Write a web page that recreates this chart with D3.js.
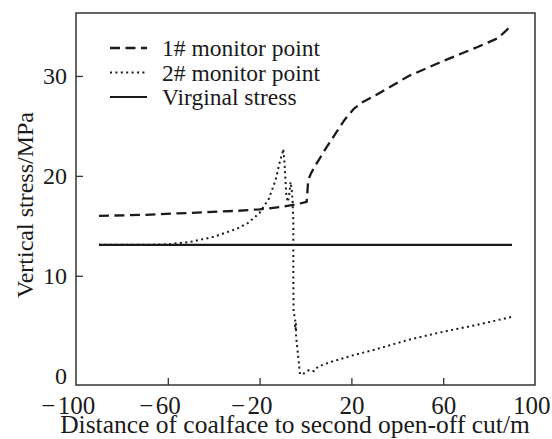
<!DOCTYPE html>
<html>
<head>
<meta charset="utf-8">
<script src="https://cdn.jsdelivr.net/npm/d3@7"></script>
<style>
  body { margin: 0; background: #fff; }
  svg { display: block; font-family: "Liberation Serif", "Times New Roman", serif; }
</style>
</head>
<body>
<svg width="552" height="439"></svg>
<script>
// 1# monitor point (dashed)
var x1 = [-90, -70, -50, -30, -20, -10, -4, 0.5, 1.2, 2.5, 5, 9, 13, 17, 21, 25, 30, 45, 60, 75, 84, 90]
var y1 = [16.0, 16.1, 16.3, 16.5, 16.65, 16.9, 17.15, 17.4, 19.6, 20.3, 21.3, 22.8, 24.2, 25.6, 26.7, 27.4, 28.0, 30.0, 31.5, 32.9, 33.8, 35.1]

// 2# monitor point (dotted)
var x2 = [-90, -70, -60, -50, -40, -30, -25, -20, -16, -13, -11, -10, -9.7, -9.2, -8.8, -8.3, -7.6, -7.0, -6.5, -6.0, -5.6, -5.3, -5.3, -5.2, -4.8, -4.4, -4.6, -4.3, -4.2, -4.1, -3.9, -2.4, -1.2, 0.5, 2, 3.7, 5.4, 10, 20, 30, 45, 60, 75, 90]
var y2 = [13.1, 13.1, 13.15, 13.4, 13.9, 14.7, 15.3, 16.3, 17.7, 19.6, 21.6, 22.3, 22.7, 21.5, 19.9, 17.9, 17.4, 18.3, 19.4, 18.6, 17.4, 15.5, 10, 6.3, 6.0, 5.4, 4.9, 4.6, 5.2, 4.0, 3.5, 0.15, 0.15, 0.45, 0.6, 0.45, 0.9, 1.3, 2.0, 2.6, 3.6, 4.4, 5.1, 5.9]

// virginal stress (solid)
var x3 = [-90, 90]
var y3 = [13.1, 13.1]

var legendLabels = ["1# monitor point", "2# monitor point", "Virginal stress"]
var xTicks = [-100, -60, -20, 20, 60, 100]
var yTicks = [0, 10, 20, 30]

var svg = d3.select('svg')
var margin = {left: 76, right: 17, top: 13, bottom: 54}
var width = 552, height = 439
var ink = "#1a1a1a"

var x = d3.scaleLinear()
  .domain([-100, 100])
  .range([margin.left, width - margin.right])
var y = d3.scaleLinear()
  .domain([-0.93, 36.3])
  .range([height - margin.bottom, margin.top])

var line = d3.line()
  .x(d => x(d[0]))
  .y(d => y(d[1]))

var series = [
  {name: legendLabels[0], pts: x1.map((v, i) => [v, y1[i]]), dash: "10,5.5", w: 2.3},
  {name: legendLabels[1], pts: x2.map((v, i) => [v, y2[i]]), dash: "2,3.4", w: 2},
  {name: legendLabels[2], pts: x3.map((v, i) => [v, y3[i]]), dash: null, w: 2.2}
]

// frame
svg.append("rect")
  .attr("x", x(-100)).attr("y", y(36.3))
  .attr("width", x(100) - x(-100)).attr("height", y(-0.93) - y(36.3))
  .attr("fill", "none").attr("stroke", "#333").attr("stroke-width", 1.5)

// x axis: ticks point inward, digits centred on the tick with the minus hanging left
var xAxis = svg.append("g")
  .attr("transform", `translate(0,${y(-0.93)})`)
  .call(d3.axisBottom(x).tickValues(xTicks).tickSizeInner(-7).tickSizeOuter(0).tickPadding(11)
    .tickFormat(d => Math.abs(d)))
xAxis.select(".domain").remove()
xAxis.selectAll(".tick line").attr("stroke", "#333").attr("stroke-width", 1.3)
  .filter(d => d == -100 || d == 100).remove()
xAxis.selectAll(".tick text").attr("font-size", 25).attr("fill", ink)
  .attr("font-family", "Liberation Serif")
  .filter(d => d == 100).attr("text-anchor", "end").attr("x", 15)
xAxis.selectAll(".tick").filter(d => d < 0).each(function(d) {
  var t = d3.select(this).select("text")
  var w = t.node().getComputedTextLength()
  d3.select(this).append("text")
    .attr("x", -w / 2 - 2.5).attr("y", t.attr("y")).attr("dy", "0.71em")
    .attr("text-anchor", "end").attr("font-size", 25).attr("fill", ink)
    .attr("font-family", "Liberation Serif")
    .text("\u2212")
})

var yAxis = svg.append("g")
  .attr("transform", `translate(${x(-100)},0)`)
  .call(d3.axisLeft(y).tickValues(yTicks).tickSizeInner(-7).tickSizeOuter(0).tickPadding(9))
yAxis.select(".domain").remove()
yAxis.selectAll(".tick line").attr("stroke", "#333").attr("stroke-width", 1.3)
  .filter(d => d == 0).remove()
yAxis.selectAll(".tick text").attr("font-size", 24).attr("fill", ink)
  .attr("font-family", "Liberation Serif")

// axis titles
svg.append("text")
  .attr("x", 295).attr("y", 433)
  .attr("text-anchor", "middle").attr("font-size", 25.5).attr("fill", ink)
  .text("Distance of coalface to second open-off cut/m")
svg.append("text")
  .attr("transform", `translate(33,${205}) rotate(-90)`)
  .attr("text-anchor", "middle").attr("font-size", 24).attr("fill", ink)
  .text("Vertical stress/MPa")

// data lines
svg.append("g")
  .attr("fill", "none")
  .selectAll("path")
  .data(series)
  .enter()
  .append("path")
    .attr("d", d => line(d.pts))
    .attr("stroke", ink)
    .attr("stroke-width", d => d.w)
    .attr("stroke-dasharray", d => d.dash)
    .attr("stroke-linejoin", "round")

// legend
var legend = svg.append("g")
  .selectAll("g")
  .data(series)
  .enter()
  .append("g")
    .attr("transform", (d, i) => `translate(110,${48 + i * 24.5})`)
legend.append("line")
  .attr("x1", 0).attr("x2", 37)
  .attr("stroke", ink)
  .attr("stroke-width", d => d.w)
  .attr("stroke-dasharray", d => d.dash)
legend.append("text")
  .attr("x", 52).attr("y", 8)
  .attr("font-size", 23.5).attr("fill", ink)
  .text(d => d.name)
</script>
</body>
</html>
